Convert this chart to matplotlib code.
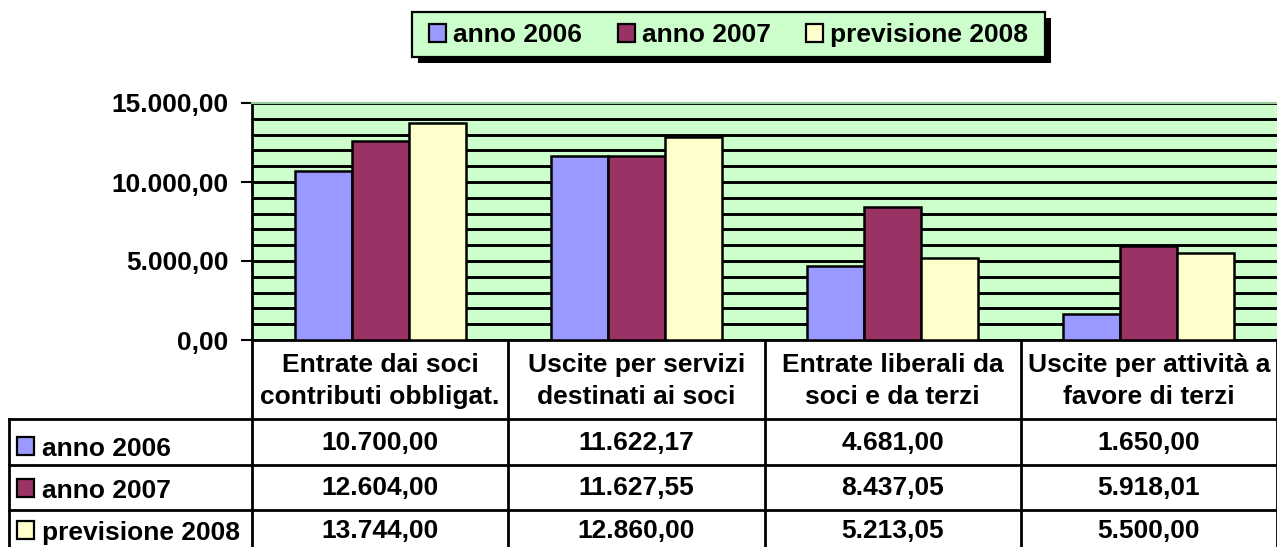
import matplotlib.pyplot as plt
import matplotlib.transforms as mtransforms
from matplotlib.patches import Rectangle
from matplotlib.ticker import MultipleLocator, FuncFormatter

plt.rcParams['font.family'] = ['Liberation Sans', 'DejaVu Sans']
plt.rcParams['font.weight'] = 'bold'

# data
categories = ["Entrate dai soci\ncontributi obbligat.",
              "Uscite per servizi\ndestinati ai soci",
              "Entrate liberali da\nsoci e da terzi",
              "Uscite per attività a\nfavore di terzi"]
series_names = ["anno 2006", "anno 2007", "previsione 2008"]
anno_2006 = [10700.00, 11622.17, 4681.00, 1650.00]
anno_2007 = [12604.00, 11627.55, 8437.05, 5918.01]
prev_2008 = [13744.00, 12860.00, 5213.05, 5500.00]
series = [anno_2006, anno_2007, prev_2008]
colors = ['#9999FF', '#993366', '#FFFFCC']
green = '#CCFFCC'
FS = 19


def it_fmt(v, pos=None):
    s = f"{v:,.2f}"
    return s.replace(",", "X").replace(".", ",").replace("X", ".")


W, H = 1277, 547
fig = plt.figure(figsize=(W / 100, H / 100), dpi=100)

# overlay axes in pixel coords for table + legend
ax_t = fig.add_axes([0, 0, 1, 1])
ax_t.set_xlim(0, W)
ax_t.set_ylim(H, 0)
ax_t.axis('off')

# main chart
left, right, top, bottom = 252, 1277, 103, 340
ax = fig.add_axes([left / W, 1 - bottom / H, (right - left) / W, (bottom - top) / H])
ax.set_facecolor(green)
n = len(categories)
ax.set_xlim(-0.5, n - 0.5)
ax.set_ylim(0, 15000)
bw = 1 / 4.5
for k, vals in enumerate(series):
    xs = [i + (k - 1) * bw for i in range(n)]
    ax.bar(xs, vals, width=bw, color=colors[k], edgecolor='black', linewidth=1.8, zorder=3)

ax.yaxis.set_major_locator(MultipleLocator(5000))
ax.yaxis.set_minor_locator(MultipleLocator(1000))
ax.yaxis.set_major_formatter(FuncFormatter(it_fmt))
ax.grid(which='both', axis='y', color='black', linewidth=2.1, zorder=1)
ax.set_axisbelow(True)
ax.tick_params(axis='y', which='major', length=8, width=1.5, pad=9, labelsize=FS, direction='out')
ax.tick_params(axis='y', which='minor', length=0)
ax.tick_params(axis='x', length=0, labelbottom=False)
for lab in ax.get_yticklabels():
    lab.set_fontweight('bold')
ax.spines['left'].set_linewidth(2)
ax.spines['bottom'].set_linewidth(2)
ax.spines['top'].set_color('#99CC99')
ax.spines['top'].set_linewidth(1.5)
ax.spines['right'].set_visible(False)

# data table under the chart
tr = mtransforms.blended_transform_factory(ax.transData, ax_t.transData)
row_lines = [340, 419, 465, 510]
num_base = [450, 495, 538]
lab_base = [456, 498, 540]
lw = 2
for i in range(n + 1):
    ax_t.plot([i - 0.5, i - 0.5], [row_lines[0], H], transform=tr, color='black', lw=lw)
for y in row_lines[1:]:
    ax_t.plot([9, W], [y, y], color='black', lw=lw)
ax_t.plot([9, 9], [row_lines[1], H], color='black', lw=lw)

for i, cat in enumerate(categories):
    ax_t.text(i, 404, cat, transform=tr, ha='center', va='baseline',
              fontsize=FS, fontweight='bold', linespacing=1.4, multialignment='center')
for k, vals in enumerate(series):
    for i, v in enumerate(vals):
        ax_t.text(i, num_base[k], it_fmt(v), transform=tr, ha='center', va='baseline',
                  fontsize=FS, fontweight='bold')
    yb = lab_base[k]
    ax_t.add_patch(Rectangle((17, yb - 19), 17, 18, facecolor=colors[k], edgecolor='black', lw=1.6))
    ax_t.text(42, yb, series_names[k], ha='left', va='baseline', fontsize=FS, fontweight='bold')

# legend box with shadow
lx0, lx1, ly0, ly1 = 412, 1045, 12, 57
ax_t.add_patch(Rectangle((lx0 + 6, ly0 + 6), lx1 - lx0, ly1 - ly0, facecolor='black', edgecolor='black', lw=0))
ax_t.add_patch(Rectangle((lx0, ly0), lx1 - lx0, ly1 - ly0, facecolor=green, edgecolor='black', lw=1.6))
for k, name in enumerate(series_names):
    sx = 429 + k * 188.5
    ax_t.add_patch(Rectangle((sx, 24), 17, 18, facecolor=colors[k], edgecolor='black', lw=1.6))
    ax_t.text(sx + 24, 42, name, ha='left', va='baseline', fontsize=FS, fontweight='bold')

fig.savefig('out.png', dpi=100)
